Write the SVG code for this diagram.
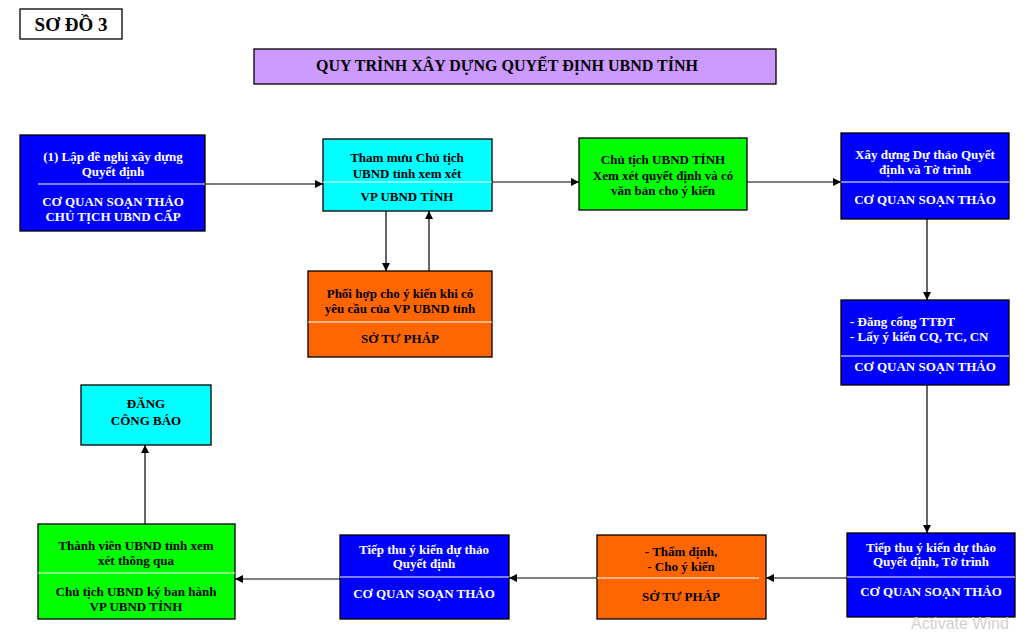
<svg xmlns="http://www.w3.org/2000/svg" width="1030" height="634" viewBox="0 0 1030 634">
<defs>
<style>
.box{stroke:#000;stroke-width:1.3}
.blue{fill:#0000ff}
.cyan{fill:#00ffff}
.green{fill:#00ff00}
.orange{fill:#ff6600}
.div{stroke:#fff;stroke-width:1}
text{font-family:"Liberation Serif","Times New Roman",serif;font-weight:bold;font-size:13px;text-anchor:middle}
.w{fill:#fff}
.k{fill:#000}
.conn{stroke:#000;stroke-width:1.2;fill:none;marker-end:url(#arr)}
</style>
<marker id="arr" viewBox="0 0 10 10" refX="10" refY="5" markerWidth="8" markerHeight="8" markerUnits="userSpaceOnUse" orient="auto">
<path d="M0,0 L10,5 L0,10 z" fill="#000"/>
</marker>
</defs>
<rect width="1030" height="634" fill="#fff"/>

<g id="label">
<rect x="20" y="9" width="102" height="30" fill="#fff" class="box"/>
<text x="71" y="31" style="font-size:19px">SƠ ĐỒ 3</text>
</g>

<g id="title">
<rect x="254" y="49" width="522" height="35" fill="#cc99ff" class="box"/>
<text x="507" y="71" style="font-size:16px">QUY TRÌNH XÂY DỰNG QUYẾT ĐỊNH UBND TỈNH</text>
</g>

<g id="connectors">
<line class="conn" x1="205" y1="184" x2="323" y2="184"/>
<line class="conn" x1="492" y1="182" x2="579" y2="182"/>
<line class="conn" x1="747" y1="182" x2="841" y2="182"/>
<line class="conn" x1="927" y1="219" x2="927" y2="300"/>
<line class="conn" x1="927" y1="385" x2="927" y2="533"/>
<line class="conn" x1="847" y1="578" x2="766" y2="578"/>
<line class="conn" x1="597" y1="578" x2="509" y2="578"/>
<line class="conn" x1="340" y1="579" x2="235" y2="579"/>
<line class="conn" x1="145" y1="524" x2="145" y2="445"/>
<line class="conn" x1="386" y1="211" x2="386" y2="271"/>
<line class="conn" x1="429" y1="271" x2="429" y2="211"/>
</g>

<g id="n1">
<rect x="20" y="135" width="185" height="96" class="box blue"/>
<line x1="38" y1="184" x2="205" y2="184" class="div"/>
<text class="w" x="113" y="161">(1) Lập đề nghị xây dựng</text>
<text class="w" x="113" y="176">Quyết định</text>
<text class="w" x="113" y="206">CƠ QUAN SOẠN THẢO</text>
<text class="w" x="113" y="221">CHỦ TỊCH UBND CẤP</text>
</g>

<g id="n2">
<rect x="323" y="139" width="169" height="72" class="box cyan"/>
<line x1="323" y1="182" x2="492" y2="182" class="div"/>
<text class="k" x="407" y="162">Tham mưu Chủ tịch</text>
<text class="k" x="407" y="178">UBND tỉnh xem xét</text>
<text class="k" x="407" y="201">VP UBND TỈNH</text>
</g>

<g id="n3">
<rect x="579" y="138" width="168" height="72" class="box green"/>
<text class="k" x="663" y="164">Chủ tịch UBND TỈNH</text>
<text class="k" x="663" y="180">Xem xét quyết định và có</text>
<text class="k" x="663" y="195">văn bản cho ý kiến</text>
</g>

<g id="n4">
<rect x="841" y="133" width="168" height="86" class="box blue"/>
<line x1="841" y1="182" x2="1009" y2="182" class="div"/>
<text class="w" x="925" y="159">Xây dựng Dự thảo Quyết</text>
<text class="w" x="925" y="174">định và Tờ trình</text>
<text class="w" x="925" y="204">CƠ QUAN SOẠN THẢO</text>
</g>

<g id="n5">
<rect x="841" y="300" width="168" height="85" class="box blue"/>
<line x1="841" y1="356" x2="1009" y2="356" class="div"/>
<text class="w" x="850" y="326" style="text-anchor:start">- Đăng cổng TTĐT</text>
<text class="w" x="850" y="341" style="text-anchor:start">- Lấy ý kiến CQ, TC, CN</text>
<text class="w" x="925" y="371">CƠ QUAN SOẠN THẢO</text>
</g>

<g id="n6">
<rect x="847" y="533" width="168" height="84" class="box blue"/>
<line x1="847" y1="577" x2="1015" y2="577" class="div"/>
<text class="w" x="931" y="552">Tiếp thu ý kiến dự thảo</text>
<text class="w" x="931" y="566">Quyết định, Tờ trình</text>
<text class="w" x="931" y="596">CƠ QUAN SOẠN THẢO</text>
</g>

<g id="n7">
<rect x="597" y="535" width="169" height="84" class="box orange"/>
<line x1="597" y1="578" x2="759" y2="578" class="div"/>
<text class="k" x="681" y="556">- Thẩm định,</text>
<text class="k" x="681" y="571">- Cho ý kiến</text>
<text class="k" x="681" y="601">SỞ TƯ PHÁP</text>
</g>

<g id="n8">
<rect x="340" y="535" width="169" height="84" class="box blue"/>
<line x1="340" y1="577" x2="509" y2="577" class="div"/>
<text class="w" x="424" y="554">Tiếp thu ý kiến dự thảo</text>
<text class="w" x="424" y="568">Quyết định</text>
<text class="w" x="424" y="598">CƠ QUAN SOẠN THẢO</text>
</g>

<g id="n9">
<rect x="38" y="524" width="197" height="95" class="box green"/>
<line x1="38" y1="573" x2="235" y2="573" class="div"/>
<text class="k" x="136" y="550">Thành viên UBND tỉnh xem</text>
<text class="k" x="136" y="565">xét thông qua</text>
<text class="k" x="136" y="596">Chủ tịch UBND ký ban hành</text>
<text class="k" x="136" y="611">VP UBND TỈNH</text>
</g>

<g id="n10">
<rect x="81" y="385" width="130" height="60" class="box cyan"/>
<text class="k" x="146" y="408">ĐĂNG</text>
<text class="k" x="146" y="425">CÔNG BÁO</text>
</g>

<g id="n11">
<rect x="308" y="271" width="184" height="86" class="box orange"/>
<line x1="308" y1="322" x2="492" y2="322" class="div"/>
<text class="k" x="400" y="298">Phối hợp cho ý kiến khi có</text>
<text class="k" x="400" y="313">yêu cầu của VP UBND tỉnh</text>
<text class="k" x="400" y="343">SỞ TƯ PHÁP</text>
</g>

<text x="911" y="629" style="font-family:'Liberation Sans',Arial,sans-serif;font-weight:normal;font-size:16px;text-anchor:start;fill:#d0d0d0">Activate Wind</text>
</svg>
